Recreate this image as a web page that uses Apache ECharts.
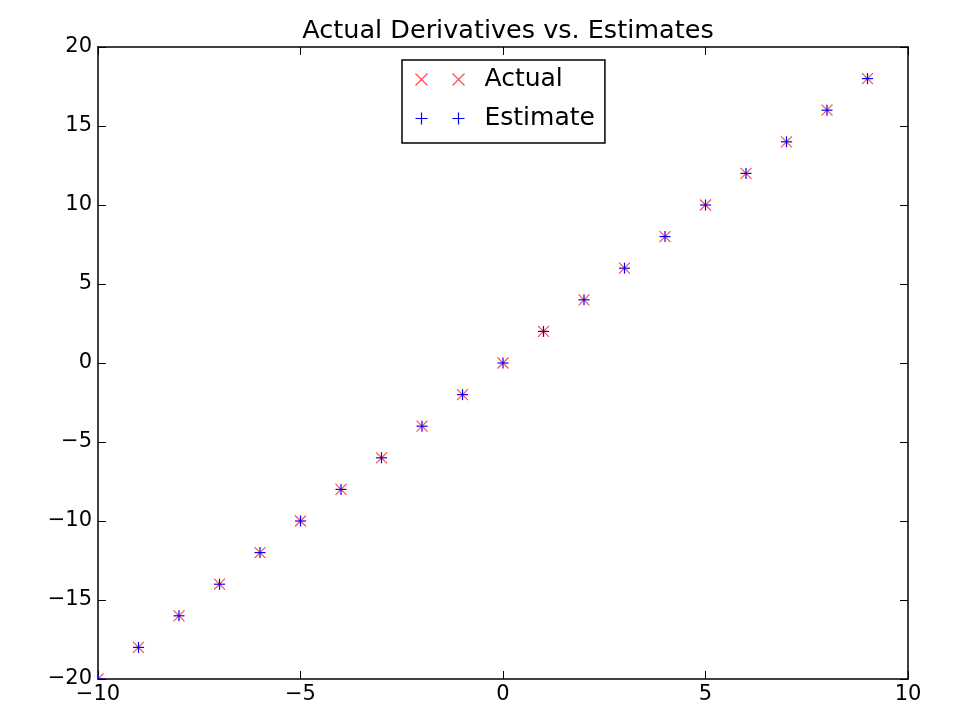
<!DOCTYPE html>
<html>
<head>
<meta charset="utf-8">
<script src="https://cdn.jsdelivr.net/npm/echarts@6/dist/echarts.min.js"></script>
<style>
html,body{margin:0;padding:0;background:#fff;}
#c{width:956px;height:711px;}
</style>
</head>
<body>
<div id="c"></div>
<script>
const xValues = [-10,-9,-8,-7,-6,-5,-4,-3,-2,-1,0,1,2,3,4,5,6,7,8,9];
const actual = [-20,-18,-16,-14,-12,-10,-8,-6,-4,-2,0,2,4,6,8,10,12,14,16,18];
const estimate = [-20,-18,-16,-14,-12,-10,-8,-6,-4,-2,0,2,4,6,8,10,12,14,16,18];
const xTicks = [-10,-5,0,5,10];
const yTicks = [-20,-15,-10,-5,0,5,10,15,20];

const FONT = 'DejaVu Sans';
const RED = 'rgba(255,0,0,0.7)';
const BLUE = '#0000ff';
const xPath2 = 'path://M0,0L12,12M12,0L0,12M37,0L49,12M49,0L37,12';
const plusPath2 = 'path://M6,0L6,12M0,6L12,6M43,0L43,12M37,6L49,6';
const H = 5.5;

function markerRenderer(kind, color) {
  return function (params, api) {
    const p = api.coord([api.value(0), api.value(1)]);
    const st = {stroke: color, lineWidth: 1.2, fill: null};
    const lines = kind === 'x'
      ? [[p[0]-H, p[1]-H, p[0]+H, p[1]+H], [p[0]+H, p[1]-H, p[0]-H, p[1]+H]]
      : [[p[0], p[1]-H, p[0], p[1]+H], [p[0]-H, p[1], p[0]+H, p[1]]];
    return {
      type: 'group',
      children: lines.map(l => ({type:'line', shape:{x1:l[0], y1:l[1], x2:l[2], y2:l[3]}, style: st}))
    };
  };
}

const chart = echarts.init(document.getElementById('c'), null, {renderer:'canvas'});
const fmt = v => (v < 0 ? '\u2212' + Math.abs(v) : String(v));
const axisCommon = {
  type: 'value', splitLine: {show:false},
  axisLine: {show:true, onZero:false, lineStyle:{color:'#000', width:1.5}},
  axisTick: {show:true, inside:true, length:8, lineStyle:{color:'#000', width:1}},
};
chart.setOption({
  animation: false,
  backgroundColor: '#fff',
  title: {
    text: 'Actual Derivatives vs. Estimates', left: 503, top: 13, textAlign: 'center',
    textStyle: {fontFamily: FONT, fontSize: 25.5, fontWeight: 'normal', color: '#000'}
  },
  grid: {left: 98, right: 48, top: 47, bottom: 32, containLabel: false},
  legend: {
    left: 402, top: 60, orient: 'vertical',
    borderColor: '#000', borderWidth: 1.5, padding: [7, 10, 12, 11], itemGap: 14,
    itemWidth: 49, itemHeight: 12,
    textStyle: {fontFamily: FONT, fontSize: 25, color: '#000', padding:[0,0,0,15]},
    data: [
      {name:'Actual', icon: xPath2, itemStyle:{color:'none', borderColor:RED, borderWidth:1.2}},
      {name:'Estimate', icon: plusPath2, itemStyle:{color:'none', borderColor:BLUE, borderWidth:1.2}}
    ]
  },
  xAxis: [
    Object.assign({}, axisCommon, {min:-10, max:10, interval:5, position:'bottom',
      axisLabel:{fontFamily:FONT, fontSize:21, color:'#000', margin:5, formatter: fmt}}),
    Object.assign({}, axisCommon, {min:-10, max:10, interval:5, position:'top', axisLabel:{show:false}})
  ],
  yAxis: [
    Object.assign({}, axisCommon, {min:-20, max:20, interval:5, position:'left',
      axisLabel:{fontFamily:FONT, fontSize:21, color:'#000', margin:6, formatter: fmt}}),
    Object.assign({}, axisCommon, {min:-20, max:20, interval:5, position:'right', axisLabel:{show:false}})
  ],
  series: [
    {
      name: 'Actual', type: 'custom', clip: true, xAxisIndex: 0, yAxisIndex: 0,
      itemStyle: {color: RED},
      renderItem: markerRenderer('x', RED),
      data: xValues.map((x,i) => [x, actual[i]])
    },
    {
      name: 'Estimate', type: 'custom', clip: true, xAxisIndex: 0, yAxisIndex: 0,
      itemStyle: {color: BLUE},
      renderItem: markerRenderer('+', BLUE),
      data: xValues.map((x,i) => [x, estimate[i]])
    }
  ]
});
</script>
</body>
</html>
